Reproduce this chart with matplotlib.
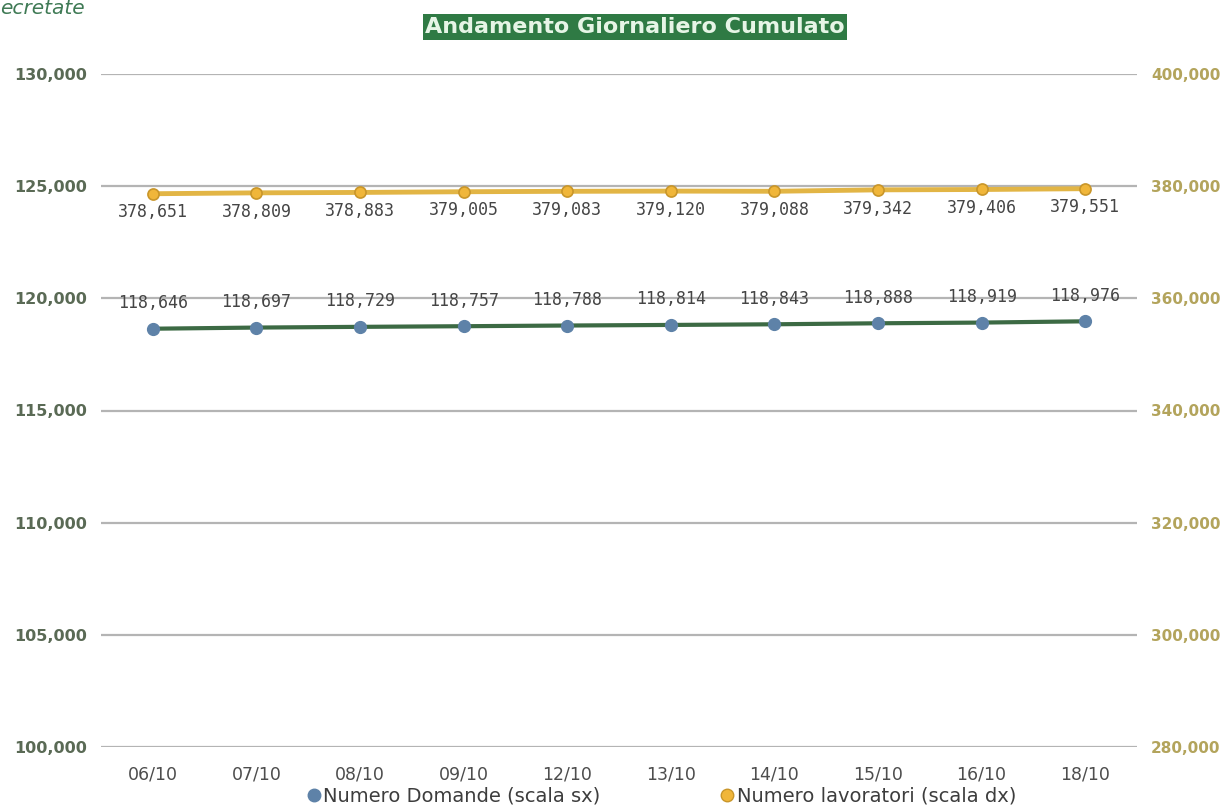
import matplotlib
matplotlib.use("Agg")
import matplotlib.pyplot as plt
from matplotlib.ticker import FuncFormatter
from matplotlib.lines import Line2D

categories = ["06/10", "07/10", "08/10", "09/10", "12/10", "13/10", "14/10", "15/10", "16/10", "18/10"]
domande = [118646, 118697, 118729, 118757, 118788, 118814, 118843, 118888, 118919, 118976]
lavoratori = [378651, 378809, 378883, 379005, 379083, 379120, 379088, 379342, 379406, 379551]

fig = plt.figure(figsize=(12.24, 8.07), dpi=100)
ax = fig.add_axes([101/1224, 1 - 747/807, 1036/1224, 673/807])
ax2 = ax.twinx()

x = list(range(len(categories)))
fmt = FuncFormatter(lambda v, p: f"{int(v):,}")

ax.set_xlim(-0.5, len(categories) - 0.5)
ax.set_ylim(100000, 130000)
ax.set_yticks(range(100000, 130001, 5000))
ax.yaxis.set_major_formatter(fmt)
ax2.set_ylim(280000, 400000)
ax2.set_yticks(range(280000, 400001, 20000))
ax2.yaxis.set_major_formatter(fmt)

for a in (ax, ax2):
    for s in a.spines.values():
        s.set_visible(False)

ax.grid(axis="y", color="#b4b4b4", linewidth=1.6)
ax.set_axisbelow(True)
ax.tick_params(axis="y", length=0, labelsize=11.5, labelcolor="#5a6a55", pad=10)
ax2.tick_params(axis="y", length=0, labelsize=11, labelcolor="#b3a45c", pad=10)
for lab in ax.get_yticklabels() + ax2.get_yticklabels():
    lab.set_fontweight("bold")

ax.set_xticks(x)
ax.set_xticklabels(categories)
ax.tick_params(axis="x", length=0, labelsize=12.5, labelcolor="#4d4d4d", pad=13)

ax.plot(x, domande, color="#3c6a44", linewidth=3, marker="o", markersize=8.5,
        markerfacecolor="#5e82a8", markeredgecolor="#5e82a8", zorder=3)
ax2.plot(x, lavoratori, color="#e2b545", linewidth=3.5, marker="o", markersize=8,
         markerfacecolor="#f0b63a", markeredgecolor="#c9962a", markeredgewidth=1.2, zorder=3)

for xi, v in zip(x, domande):
    ax.annotate(f"{v:,}", (xi, v), xytext=(0, 12), textcoords="offset points",
                ha="center", va="bottom", fontsize=12, color="#454545",
                family="DejaVu Sans Mono")
for xi, v in zip(x, lavoratori):
    ax2.annotate(f"{v:,}", (xi, v), xytext=(0, -7), textcoords="offset points",
                 ha="center", va="top", fontsize=12, color="#454545",
                 family="DejaVu Sans Mono")

fig.text(635/1224, 1 - 27/807, "Andamento Giornaliero Cumulato", ha="center", va="center",
         fontsize=16, fontweight="bold", color="#e6f5e6",
         bbox=dict(boxstyle="square,pad=0.12", facecolor="#2f7a44", edgecolor="none"))
fig.text(0.0, 1 - 8/807, "ecretate", ha="left", va="center", fontsize=14.5,
         style="italic", color="#3f7a55")

handles = [
    Line2D([], [], linestyle="none", marker="o", markersize=9, markerfacecolor="#5e82a8",
           markeredgecolor="#5e82a8"),
    Line2D([], [], linestyle="none", marker="o", markersize=9, markerfacecolor="#f0b63a",
           markeredgecolor="#c9962a"),
]
fig.legend(handles, ["Numero Domande (scala sx)", "Numero lavoratori (scala dx)"],
           loc="center", bbox_to_anchor=(660/1224, 1 - 796/807), ncol=2, frameon=False,
           fontsize=14, handletextpad=0.0, columnspacing=6, labelcolor="#3d3d3d",
           handlelength=1.0)

fig.savefig("out.png", dpi=100)
